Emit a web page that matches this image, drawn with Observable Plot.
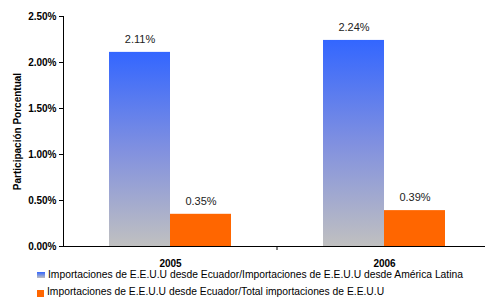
<!DOCTYPE html>
<html>
<head>
<meta charset="utf-8">
<script src="https://cdn.jsdelivr.net/npm/d3@7"></script>
<script src="https://cdn.jsdelivr.net/npm/@observablehq/plot@0.6"></script>
<style>
  body { margin: 0; background: #fff; font-family: "Liberation Sans", Arial, sans-serif; }
  #chart svg g[aria-label="y-axis tick label"], #chart svg g[aria-label="y-axis label"], #chart svg g[aria-label="fx-axis tick label"] { font-weight: bold; }
  .legend { position: relative; height: 30px; font-size: 10.3px; color: #000; }
  .legend .row { position: absolute; left: 37px; display: flex; align-items: center; white-space: nowrap; }
  .legend .sw { display: inline-block; margin-right: 3px; }
</style>
</head>
<body>
<div id="chart"></div>
<div class="legend" id="legend"></div>
<script>
const years = ["2005", "2006"];
const series = [
  "Importaciones de E.E.U.U desde Ecuador/Importaciones de E.E.U.U desde América Latina",
  "Importaciones de E.E.U.U desde Ecuador/Total importaciones de E.E.U.U"
];
const latamShare = [0.0211, 0.0224];
const totalShare = [0.0035, 0.0039];
const yTicks = [0, 0.005, 0.01, 0.015, 0.02, 0.025];
const seriesFills = ["url(#blueGrad)", "#FF6600"];

const data = years.flatMap((y, i) => [
  {year: y, series: series[0], value: latamShare[i]},
  {year: y, series: series[1], value: totalShare[i]}
]);
const fmt = d3.format(".2%");

function gradDefs() {
  const ns = "http://www.w3.org/2000/svg";
  const defs = document.createElementNS(ns, "defs");
  const lg = document.createElementNS(ns, "linearGradient");
  lg.setAttribute("id", "blueGrad");
  lg.setAttribute("x1", "0"); lg.setAttribute("y1", "0");
  lg.setAttribute("x2", "0"); lg.setAttribute("y2", "1");
  [["0%", "#3366FF"], ["50%", "#8090E0"], ["100%", "#C0C0C0"]].forEach(([o, c]) => {
    const s = document.createElementNS(ns, "stop");
    s.setAttribute("offset", o); s.setAttribute("stop-color", c);
    lg.appendChild(s);
  });
  defs.appendChild(lg);
  return defs;
}

const chart = Plot.plot({
  width: 485,
  height: 270,
  marginLeft: 63,
  marginRight: -6,
  marginTop: 16,
  marginBottom: 24,
  style: {fontFamily: "'Liberation Sans', Arial, sans-serif", fontSize: "10px", color: "#000", background: "#fff", overflow: "hidden"},
  fx: {domain: years, padding: 0, label: null, tickSize: 0, tickPadding: 13, fontSize: 11},
  x: {domain: series, paddingInner: 0, paddingOuter: 0.75, axis: null},
  y: {domain: [0, 0.025], ticks: yTicks, tickFormat: fmt, tickSize: 4, tickPadding: 3, line: true,
      label: "Participación Porcentual", labelAnchor: "center", labelOffset: 50, labelArrow: "none"},
  marks: [
    gradDefs,
    Plot.barY(data, {fx: "year", x: "series", y: "value",
      fill: d => d.series === series[0] ? seriesFills[0] : seriesFills[1]}),
    Plot.text(data, {fx: "year", x: "series", y: "value", text: d => fmt(d.value),
      dy: -13, fontSize: 11, fill: "#222"}),
    Plot.ruleY([0], {stroke: "#000"})
  ]
});
document.getElementById("chart").appendChild(chart);

// strip any label arrow
d3.select(chart).selectAll('g[aria-label="y-axis label"] text').text("Participación Porcentual");

// category separator tick on x axis
try {
  const fxs = chart.scale("fx");
  const ys = chart.scale("y");
  const xSep = fxs.apply(years[0]) + fxs.bandwidth;
  const y0 = ys.apply(0);
  d3.select(chart).append("line")
    .attr("x1", xSep).attr("x2", xSep).attr("y1", y0).attr("y2", y0 + 4)
    .attr("stroke", "#000");
} catch (e) {}

// legend
const leg = document.getElementById("legend");
series.forEach((s, i) => {
  const row = document.createElement("div");
  row.className = "row";
  row.style.top = (i === 0 ? -1 : 16) + "px";
  const sw = document.createElement("span");
  sw.className = "sw";
  if (i === 0) {
    sw.style.width = "8px"; sw.style.height = "6px";
    sw.style.background = "linear-gradient(#3366FF, #C0C0C0)";
  } else {
    sw.style.width = "7px"; sw.style.height = "7px";
    sw.style.background = seriesFills[1];
    sw.style.marginTop = "4px";
  }
  const t = document.createElement("span");
  t.textContent = s;
  row.appendChild(sw); row.appendChild(t);
  leg.appendChild(row);
});
</script>
</body>
</html>
